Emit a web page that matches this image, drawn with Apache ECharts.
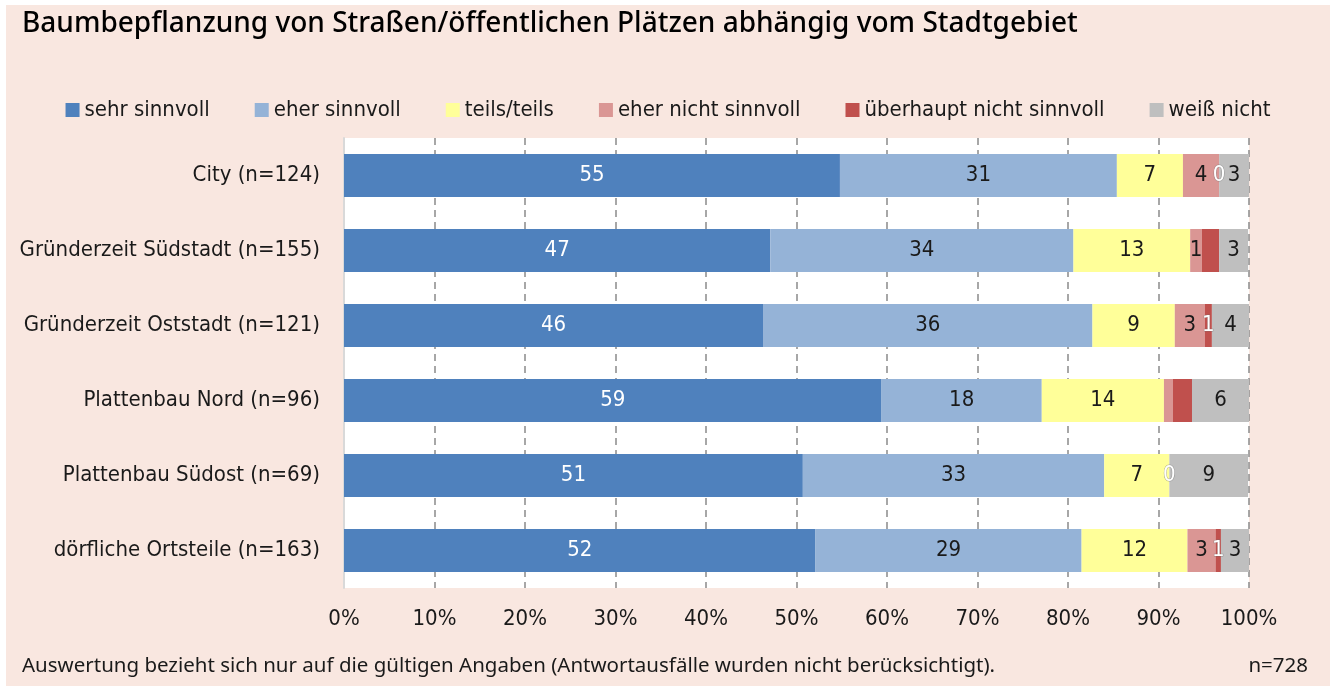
<!DOCTYPE html>
<html>
<head>
<meta charset="utf-8">
<script src="https://cdn.jsdelivr.net/npm/echarts@6/dist/echarts.min.js"></script>
<style>
  html, body { margin: 0; padding: 0; background: #ffffff; }
  #chart { position: absolute; left: 6px; top: 5px; width: 1324px; height: 681px; background: #F9E7E0; }
</style>
</head>
<body>
<div id="chart"></div>
<script>
// Districts (top to bottom) and answer shares in percent
const categories = [
  'City (n=124)',
  'Gründerzeit Südstadt (n=155)',
  'Gründerzeit Oststadt (n=121)',
  'Plattenbau Nord (n=96)',
  'Plattenbau Südost (n=69)',
  'dörfliche Ortsteile (n=163)'
];
const sehrSinnvoll        = [54.8, 47.1, 46.3, 59.4, 50.7, 52.1];
const eherSinnvoll        = [30.6, 33.5, 36.4, 17.7, 33.3, 29.4];
const teilsTeils          = [7.3, 12.9, 9.1, 13.5, 7.2, 11.7];
const eherNichtSinnvoll   = [4.0, 1.3, 3.3, 1.0, 0, 3.1];
const ueberhauptNicht     = [0, 1.9, 0.8, 2.1, 0, 0.6];
const weissNicht          = [3.3, 3.2, 4.1, 6.3, 8.7, 3.1];
const xTicks = [0, 10, 20, 30, 40, 50, 60, 70, 80, 90, 100];

// Data labels that are left out (by category index)
const hiddenLabels = {
  'eher nicht sinnvoll': [3, 4],
  'überhaupt nicht sinnvoll': [1, 3]
};

const condensed = "'Liberation Sans Narrow', 'DejaVu Sans Condensed', 'Noto Sans', sans-serif";
const plain = "'Noto Sans', 'Open Sans', sans-serif";

const seriesDefs = [
  { name: 'sehr sinnvoll', values: sehrSinnvoll, color: '#4F81BD', text: '#ffffff' },
  { name: 'eher sinnvoll', values: eherSinnvoll, color: '#95B3D7', text: '#1a1a1a' },
  { name: 'teils/teils', values: teilsTeils, color: '#FFFF99', text: '#1a1a1a' },
  { name: 'eher nicht sinnvoll', values: eherNichtSinnvoll, color: '#DA9694', text: '#1a1a1a' },
  { name: 'überhaupt nicht sinnvoll', values: ueberhauptNicht, color: '#C0504D', text: '#ffffff', outline: true },
  { name: 'weiß nicht', values: weissNicht, color: '#BFBFBF', text: '#1a1a1a' }
];

const series = seriesDefs.map(def => {
  const hidden = hiddenLabels[def.name] || [];
  const label = {
    show: true,
    position: 'inside',
    formatter: p => String(Math.round(p.value)),
    color: def.text,
    fontFamily: condensed,
    fontSize: 22
  };
  if (def.outline) {
    label.textBorderColor = 'rgba(110,110,110,0.55)';
    label.textBorderWidth = 1;
  }
  return {
    name: def.name,
    type: 'bar',
    stack: 'total',
    barWidth: 43,
    itemStyle: { color: def.color },
    label: label,
    data: def.values.map((v, i) =>
      hidden.includes(i) ? { value: v, label: { show: false } } : v)
  };
});

const chart = echarts.init(document.getElementById('chart'), null, { renderer: 'canvas' });
chart.setOption({
  animation: false,
  backgroundColor: '#F9E7E0',
  title: {
    text: 'Baumbepflanzung von Straßen/öffentlichen Plätzen abhängig vom Stadtgebiet',
    left: 16,
    top: 5,
    padding: 0,
    textStyle: { fontFamily: plain, fontSize: 28, fontWeight: 500, color: '#000000' }
  },
  legend: {
    left: 'center',
    top: 89,
    itemWidth: 14,
    itemHeight: 14,
    itemGap: 45,
    icon: 'rect',
    textStyle: { fontFamily: condensed, fontSize: 22, color: '#1a1a1a' },
    data: seriesDefs.map(d => d.name)
  },
  grid: { left: 338, right: 81, top: 133, bottom: 98, backgroundColor: '#ffffff', show: true, borderWidth: 0 },
  xAxis: {
    type: 'value',
    min: xTicks[0],
    max: xTicks[xTicks.length - 1],
    interval: xTicks[1] - xTicks[0],
    axisLine: { show: false },
    axisTick: { show: false },
    splitLine: { show: true, lineStyle: { color: '#8a8a8a', width: 1.5, type: [7, 5] } },
    axisLabel: {
      formatter: v => v + '%',
      fontFamily: condensed,
      fontSize: 22,
      color: '#1a1a1a',
      margin: 20
    }
  },
  yAxis: {
    type: 'category',
    inverse: true,
    data: categories,
    axisLine: { show: true, lineStyle: { color: '#d9d9d9', width: 2 } },
    axisTick: { show: false },
    axisLabel: { fontFamily: condensed, fontSize: 22, color: '#1a1a1a', margin: 24 }
  },
  graphic: [
    {
      type: 'text', left: 16, top: 651,
      style: {
        text: 'Auswertung bezieht sich nur auf die gültigen Angaben (Antwortausfälle wurden nicht berücksichtigt).',
        font: "20.5px 'Noto Sans', sans-serif", fill: '#1a1a1a'
      }
    },
    {
      type: 'text', right: 22, top: 651,
      style: { text: 'n=728', font: "20.5px 'Noto Sans', sans-serif", fill: '#1a1a1a' }
    }
  ],
  series: series
});
</script>
</body>
</html>
